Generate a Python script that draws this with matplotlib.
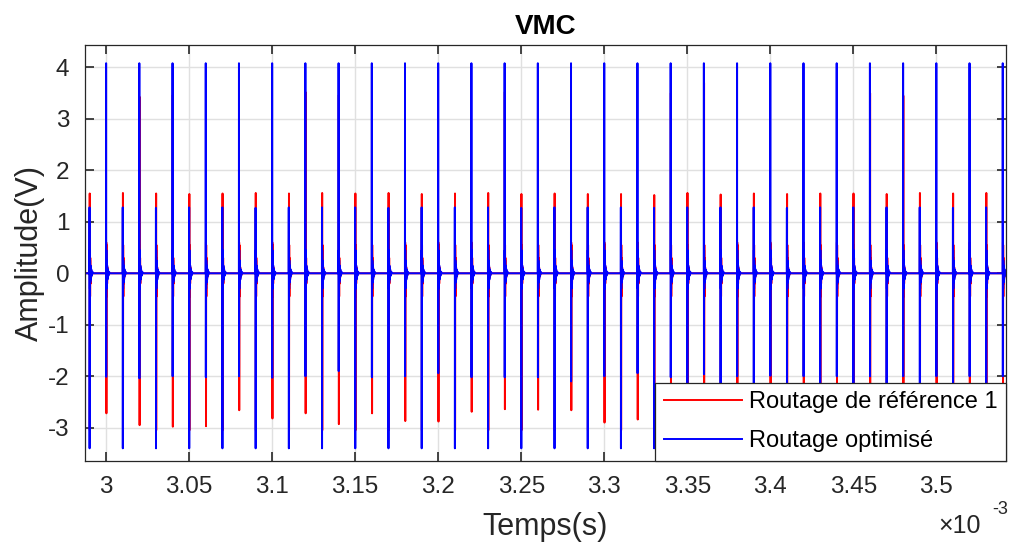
import numpy as np
import matplotlib.pyplot as plt
from matplotlib.ticker import FuncFormatter, MultipleLocator

plt.rcParams["font.family"] = ["Liberation Sans", "DejaVu Sans"]
plt.rcParams["axes.unicode_minus"] = False

# switching events (ms): tall pulses at even slots, medium pulses at odd slots
times_A_ms = [3.00, 3.02, 3.04, 3.06, 3.08, 3.10, 3.12, 3.14, 3.16, 3.18,
              3.20, 3.22, 3.24, 3.26, 3.28, 3.30, 3.32, 3.34, 3.36, 3.38,
              3.40, 3.42, 3.44, 3.46, 3.48, 3.50, 3.52, 3.54]
times_B_ms = [2.99, 3.01, 3.03, 3.05, 3.07, 3.09, 3.11, 3.13, 3.15, 3.17,
              3.19, 3.21, 3.23, 3.25, 3.27, 3.29, 3.31, 3.33, 3.35, 3.37,
              3.39, 3.41, 3.43, 3.45, 3.47, 3.49, 3.51, 3.53]

# peak values (V)
blue_hi_A = [4.08, 4.08, 4.08, 4.08, 4.08, 4.08, 4.08, 4.08, 4.08, 4.08,
             4.08, 4.08, 4.08, 4.08, 4.08, 4.08, 4.08, 4.08, 4.08, 4.08,
             4.08, 4.08, 4.08, 4.08, 4.08, 4.08, 4.08, 4.08]
blue_lo_A = [-2.01, -2.04, -2.00, -2.02, -2.00, -2.03, -2.00, -1.90, -2.02, -2.00,
             -1.94, -2.02, -2.02, -2.02, -2.10, -2.00, -1.94, -2.02, -1.96, -2.00,
             -1.99, -2.00, -2.00, -2.00, -2.00, -2.00, -2.00, -2.00]
red_hi_A = [0.60, 3.43, 3.46, 0.60, 0.60, 0.60, 3.52, 3.46, 3.52, 0.60,
            0.60, 0.60, 3.52, 3.49, 0.60, 0.60, 0.60, 3.50, 3.70, 0.60,
            0.60, 0.60, 0.60, 3.50, 3.45, 0.60, 0.60, 0.60]
red_lo_A = [-2.72, -2.95, -2.98, -2.97, -2.66, -2.82, -2.72, -2.93, -2.72, -2.87,
            -2.88, -2.69, -2.64, -2.65, -2.66, -2.90, -2.84, -2.80, -2.75, -2.85,
            -2.80, -2.70, -2.90, -2.75, -2.80, -2.70, -2.85, -2.75]

blue_hi_B = [1.28, 1.28, 1.27, 1.28, 1.28, 1.27, 1.28, 1.28, 1.28, 1.27,
             1.28, 1.28, 1.28, 1.27, 1.28, 1.28, 1.28, 1.27, 1.28, 1.28,
             1.28, 1.27, 1.28, 1.28, 1.28, 1.28, 1.27, 1.28]
blue_lo_B = [-3.40, -3.40, -3.40, -3.40, -3.40, -3.40, -3.40, -3.40, -3.40, -3.40,
             -3.40, -3.40, -3.40, -3.40, -3.40, -3.40, -3.40, -3.40, -3.40, -3.40,
             -3.40, -3.40, -3.40, -3.40, -3.40, -3.40, -3.40, -3.40]
red_hi_B = [1.55, 1.56, 1.55, 1.54, 1.55, 1.56, 1.55, 1.56, 1.55, 1.56,
            1.54, 1.55, 1.56, 1.54, 1.55, 1.54, 1.54, 1.52, 1.56, 1.53,
            1.55, 1.54, 1.55, 1.55, 1.54, 1.56, 1.55, 1.56]
red_lo_B = [-3.05, -3.05, -3.05, -3.05, -3.05, -3.05, -3.05, -3.05, -3.05, -3.05,
            -3.05, -3.05, -3.05, -3.05, -3.05, -3.05, -3.05, -3.05, -3.05, -3.05,
            -3.05, -3.05, -3.05, -3.05, -3.05, -3.05, -3.05, -3.05]

# damped ringing after each edge (µs after the negative peak, V)
ring_dt_us = [0.10, 0.20, 0.30, 0.45, 0.60, 0.80, 1.00, 1.30, 1.70, 2.20]
ring_blue = [0.45, -0.30, 0.25, -0.18, 0.15, -0.12, 0.08, -0.05, 0.03, 0.0]
ring_red = [0.55, -0.45, 0.30, -0.20, 0.12, -0.08, 0.05, -0.03, 0.01, 0.0]

x_lim = (2.987e-3, 3.542e-3)


def build_trace(hi_A, lo_A, hi_B, lo_B, ring, shift_us=0.0):
    events = list(zip(times_A_ms, hi_A, lo_A)) + list(zip(times_B_ms, hi_B, lo_B))
    events.sort()
    t = [x_lim[0]]
    v = [0.0]
    for t_ms, hi, lo in events:
        t0 = t_ms * 1e-3 + shift_us * 1e-6
        t += [t0 - 0.05e-6, t0, t0 + 0.05e-6]
        v += [0.0, hi, lo]
        for dt, r in zip(ring_dt_us, ring):
            t.append(t0 + 0.05e-6 + dt * 1e-6)
            v.append(r)
    t.append(x_lim[1])
    v.append(0.0)
    return np.array(t), np.array(v)


t_red, v_red = build_trace(red_hi_A, red_lo_A, red_hi_B, red_lo_B, ring_red, 0.12)
t_blue, v_blue = build_trace(blue_hi_A, blue_lo_A, blue_hi_B, blue_lo_B, ring_blue)

dark = (0.15, 0.15, 0.15)

fig = plt.figure(figsize=(10.1, 5.45), dpi=100)
ax = fig.add_axes([0.0837, 0.1547, 0.9124, 0.7633])

ax.plot(t_red, v_red, color="red", lw=1.4, label="Routage de référence 1")
ax.plot(t_blue, v_blue, color="blue", lw=1.4, label="Routage optimisé")

ax.set_xlim(*x_lim)
ax.set_ylim(-3.64, 4.44)
ax.xaxis.set_major_locator(MultipleLocator(0.05e-3))
ax.yaxis.set_major_locator(MultipleLocator(1))
ax.xaxis.set_major_formatter(FuncFormatter(lambda x, _: f"{x * 1e3:g}"))

ax.grid(True, color=(0.88, 0.88, 0.88), lw=1.0)
ax.set_axisbelow(True)
for s in ax.spines.values():
    s.set_color(dark)
    s.set_linewidth(0.9)
ax.tick_params(direction="in", top=True, right=True, length=6.5, width=1.2,
               color=dark, labelcolor=dark, labelsize=17.5, pad=11)

ax.set_title("VMC", fontsize=20, fontweight="bold", pad=8)
ax.set_xlabel("Temps(s)", fontsize=22, color=dark, labelpad=10)
ax.set_ylabel("Amplitude(V)", fontsize=22, color=dark, labelpad=2)

fig.text(0.929, 0.022, "×10", fontsize=18, color=dark, ha="left", va="baseline")
fig.text(0.982, 0.056, "-3", fontsize=13, color=dark, ha="left", va="baseline")

leg = ax.legend(loc="lower right", bbox_to_anchor=(1, 0), borderaxespad=0,
                fontsize=17, handlelength=3.3, handletextpad=0.3,
                labelspacing=0.72, borderpad=0.36, fancybox=False,
                framealpha=1, edgecolor=dark)
leg.get_frame().set_linewidth(0.9)

fig.savefig("out.png", dpi=100)
